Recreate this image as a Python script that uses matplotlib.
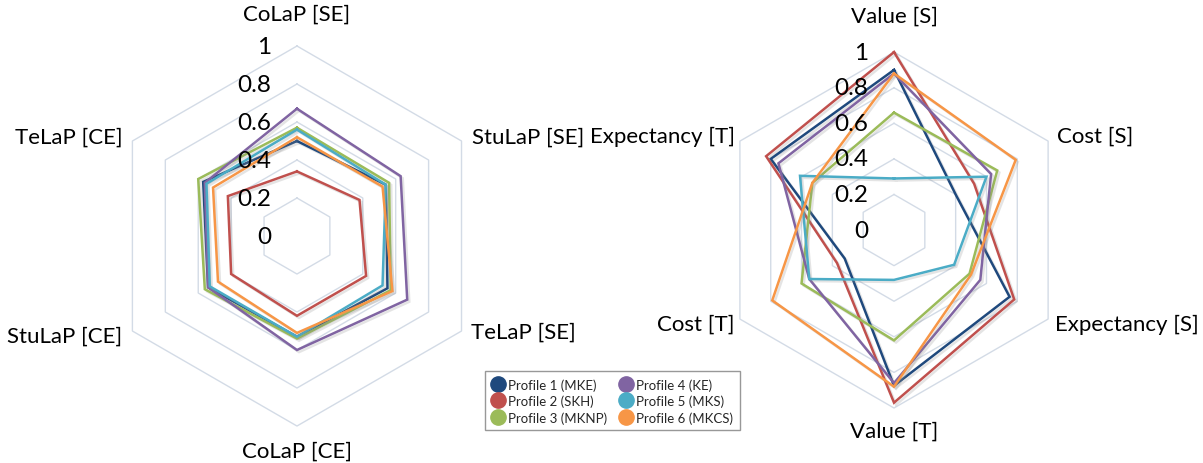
import numpy as np
import matplotlib
matplotlib.use("Agg")
import matplotlib.pyplot as plt
import matplotlib.patheffects as pe
from matplotlib.lines import Line2D


# ============================================================
# DATA
# ============================================================

profiles = ["Profile 1 (MKE)", "Profile 2 (SKH)", "Profile 3 (MKNP)",
            "Profile 4 (KE)", "Profile 5 (MKS)", "Profile 6 (MKCS)"]
colors = ["#1f497d", "#c0504d", "#9bbb59", "#8064a2", "#4bacc6", "#f79646"]

left_axes = ["CoLaP [SE]", "StuLaP [SE]", "TeLaP [SE]", "CoLaP [CE]", "StuLaP [CE]", "TeLaP [CE]"]
left_p1 = [0.50, 0.54, 0.55, 0.53, 0.54, 0.57]
left_p2 = [0.34, 0.38, 0.42, 0.42, 0.40, 0.42]
left_p3 = [0.57, 0.56, 0.57, 0.54, 0.56, 0.60]
left_p4 = [0.67, 0.63, 0.67, 0.60, 0.54, 0.56]
left_p5 = [0.56, 0.54, 0.52, 0.53, 0.53, 0.55]
left_p6 = [0.52, 0.52, 0.58, 0.51, 0.48, 0.51]

right_axes = ["Value [S]", "Cost [S]", "Expectancy [S]", "Value [T]", "Cost [T]", "Expectancy [T]"]
right_p1 = [0.90, 0.40, 0.75, 0.875, 0.32, 0.80]
right_p2 = [1.00, 0.52, 0.78, 0.97, 0.37, 0.83]
right_p3 = [0.66, 0.67, 0.49, 0.62, 0.60, 0.53]
right_p4 = [0.88, 0.63, 0.56, 0.86, 0.55, 0.75]
right_p5 = [0.29, 0.60, 0.39, 0.28, 0.55, 0.61]
right_p6 = [0.88, 0.79, 0.50, 0.88, 0.79, 0.53]

ring_values = [0.2, 0.4, 0.6, 0.8, 1.0]
tick_values = [0, 0.2, 0.4, 0.6, 0.8, 1.0]
tick_labels = ["0", "0.2", "0.4", "0.6", "0.8", "1"]

plt.rcParams["font.family"] = ["Lato", "DejaVu Sans"]

GRID_COLOR = "#d3dbe6"


# ============================================================
# RADAR HELPER
# ============================================================

def draw_radar(ax, labels, series, label_offsets):
    n = len(labels)
    theta = np.arange(n) * 2 * np.pi / n
    theta_c = np.append(theta, theta[0])

    ax.set_theta_offset(np.pi / 2)
    ax.set_theta_direction(-1)
    ax.set_ylim(0, 1)
    ax.set_xticks([])
    ax.set_yticks([])
    ax.grid(False)
    ax.spines["polar"].set_visible(False)
    ax.patch.set_alpha(0)

    # hexagon rings
    for rv in ring_values:
        ax.plot(theta_c, [rv] * (n + 1), color=GRID_COLOR, lw=1.0, zorder=1, clip_on=False)

    shadow = [pe.SimpleLineShadow(offset=(1.5, -1.5), shadow_color="#888888", alpha=0.22),
              pe.Normal()]
    for vals, col in zip(series, colors):
        v = np.append(vals, vals[0])
        ax.plot(theta_c, v, color=col, lw=1.8, zorder=3, clip_on=False,
                path_effects=shadow, solid_joinstyle="miter")

    # value labels along the top axis
    for tv, tl in zip(tick_values, tick_labels):
        ax.annotate(tl, xy=(0, tv), xytext=(-26, 0), textcoords="offset pixels",
                    ha="right", va="center", fontsize=17.5, color="black", zorder=5,
                    annotation_clip=False)

    # category labels
    for th, lab, (dx, dy, ha) in zip(theta, labels, label_offsets):
        ax.annotate(lab, xy=(th, 1.0), xytext=(dx, dy), textcoords="offset pixels",
                    ha=ha, va="center", fontsize=16, color="black",
                    annotation_clip=False)


# ============================================================
# MAIN
# ============================================================

def main():
    fig = plt.figure(figsize=(12.03, 4.64), dpi=100)

    ax1 = fig.add_axes([0.0889, 0.0797, 0.3159, 0.819], projection="polar")
    left_offsets = [(0, 32, "center"), (10, 4, "left"), (9, -1, "left"),
                    (0, -25, "center"), (-10, -5, "right"), (-10, 4, "right")]
    draw_radar(ax1, left_axes,
               [left_p1, left_p2, left_p3, left_p4, left_p5, left_p6], left_offsets)

    ax2 = fig.add_axes([0.5952, 0.1185, 0.2959, 0.767], projection="polar")
    right_offsets = [(0, 36, "center"), (9, 5, "left"), (7, -5, "left"),
                     (0, -23, "center"), (-5, -5, "right"), (-5, 5, "right")]
    draw_radar(ax2, right_axes,
               [right_p1, right_p2, right_p3, right_p4, right_p5, right_p6], right_offsets)

    handles = [Line2D([], [], marker="o", ls="none", markersize=11, color=c) for c in colors]
    leg = fig.legend(handles, profiles, loc="center", bbox_to_anchor=(0.509, 0.134),
                     ncol=2, fontsize=9.5, frameon=True, fancybox=False,
                     handletextpad=0.3, columnspacing=0.9, labelspacing=0.3,
                     borderpad=0.5, handlelength=1.0)
    leg.get_frame().set_edgecolor("#7f7f7f")
    leg.get_frame().set_linewidth(1.0)
    for t in leg.get_texts():
        t.set_color("#262626")

    fig.savefig("out.png", dpi=100)
    plt.close(fig)


if __name__ == "__main__":
    main()
